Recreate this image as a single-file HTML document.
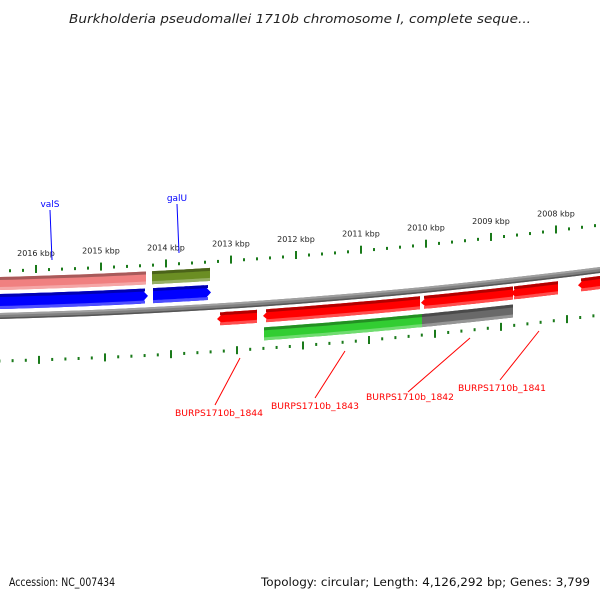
<!DOCTYPE html>
<html><head><meta charset="utf-8"><style>
body{margin:0;background:#fff}
svg{display:block;font-family:"DejaVu Sans","Liberation Sans",sans-serif}
</style></head><body>
<svg id="map" width="600" height="600" viewBox="0 0 600 600">
<text x="69" y="23" font-size="12.5" font-style="italic" fill="#222" textLength="462" lengthAdjust="spacingAndGlyphs">Burkholderia pseudomallei 1710b chromosome I, complete seque...</text>
<g id="ticks"></g>
<g id="backbone"></g>
<g id="genes"></g>
<g id="labels"></g>
<text x="9" y="586" font-size="11.5" fill="#111" textLength="106" lengthAdjust="spacingAndGlyphs">Accession: NC_007434</text>
<text x="261" y="586" font-size="11.5" fill="#111" textLength="329" lengthAdjust="spacingAndGlyphs">Topology: circular; Length: 4,126,292 bp; Genes: 3,799</text>
</svg>
<script>
const kbpTicks = [2016, 2015, 2014, 2013, 2012, 2011, 2010, 2009, 2008];
const geneNames = ["pink-feature","olive-feature","valS","galU","BURPS1710b_1844","BURPS1710b_1843","BURPS1710b_1842","BURPS1710b_1841","red-feature-5","green-feature","grey-feature"];
const geneStart = [2016.6, 2014.215, 2016.6, 2014.2, 2013.215, 2012.508, 2010.077, 2008.692, 2007.662, 2012.492, 2010.062];
const geneEnd   = [2014.308, 2013.323, 2014.277, 2013.308, 2012.6, 2010.092, 2008.662, 2007.969, 2007.2, 2010.062, 2008.662];
const geneRow   = [0, 0, 1, 1, 2, 2, 2, 2, 2, 3, 3];
const geneDir   = [0, 0, 1, 1, -1, -1, -1, -1, -1, 0, 0];
const geneColor = ["#f08080","#6b8e23","#0000ff","#0000ff","#ff0000","#ff0000","#ff0000","#ff0000","#ff0000","#32cd32","#696969"];

const NS="http://www.w3.org/2000/svg";
function xo(k){return 36+(2016-k)*65;}
function xi(k){return 39+(2016-k)*66;}
function c(x){return 316-0.0253*x-8.56e-5*x*x;}
const rowOff=[[-39,-26],[-22,-7],[6,19],[24,37]];
function mk(tag,attrs,parent){const e=document.createElementNS(NS,tag);for(const k in attrs)e.setAttribute(k,attrs[k]);parent.appendChild(e);return e;}
function band(x1,x2,o1,o2,dir){
  const pts=[];const a=Math.max(-5,Math.min(x1,x2)),b=Math.min(605,Math.max(x1,x2));
  const t1=dir<0?a+7:a, t2=dir>0?b-7:b;
  for(let i=0;i<=20;i++){const x=t1+(t2-t1)*i/20;pts.push([x,c(x)+o1]);}
  if(dir>0)pts.push([b,c(b)+(o1+o2)/2]);
  for(let i=20;i>=0;i--){const x=t1+(t2-t1)*i/20;pts.push([x,c(x)+o2]);}
  if(dir<0)pts.push([a,c(a)+(o1+o2)/2]);
  return pts.map(p=>p[0].toFixed(1)+","+p[1].toFixed(1)).join(" ");
}
function shade(col,f){const n=parseInt(col.slice(1),16);let r=n>>16,g=(n>>8)&255,b=n&255;
  if(f<0){r*=1+f;g*=1+f;b*=1+f;}else{r+=(255-r)*f;g+=(255-g)*f;b+=(255-b)*f;}
  return "rgb("+[r,g,b].map(v=>Math.round(v)).join(",")+")";}

const tg=document.getElementById('ticks');
for(let k=2017;k>=2007;k-=0.2){
  const kk=Math.round(k*5)/5;const big=Math.abs(kk-Math.round(kk))<1e-6;
  const x=xo(kk);
  if(x>-3&&x<603){const r=mk('rect',{x:x-1,y:c(x)-45-(big?5:1.5),width:2,height:big?8:3,fill:'#1a7a1a'},tg);
  
  }
  const x2=xi(kk);
  if(x2>-3&&x2<603){const r=mk('rect',{x:x2-1,y:c(x2)+45-(big?4:1.5),width:2,height:big?8:3,fill:'#1a7a1a'},tg);
  
  }
}
kbpTicks.forEach(k=>{const x=xo(k);
  const t=mk('text',{x:x,y:c(x)-59,'font-size':8,'text-anchor':'middle',fill:'#222'},tg);t.textContent=k+" kbp";
  
  });

const bb=document.getElementById('backbone');
mk('polygon',{points:band(-5,605,-3,3,0),fill:'#808080'},bb);
mk('polygon',{points:band(-5,605,-3,-1,0),fill:'#a0a0a0'},bb);
mk('polygon',{points:band(-5,605,1.5,3,0),fill:'#555'},bb);

const gg=document.getElementById('genes');
geneNames.forEach((n,i)=>{
  const x1=xo(geneStart[i]),x2=xo(geneEnd[i]);const [o1,o2]=rowOff[geneRow[i]];const d=geneDir[i];const col=geneColor[i];
  const g=mk('g',{},gg);
  
  
  mk('polygon',{points:band(x1,x2,o1,o2,d),fill:col},g);
  mk('polygon',{points:band(x1+(d<0?3:0),x2-(d>0?3:0),o1,o1+3,0),fill:shade(col,-0.3)},g);
  mk('polygon',{points:band(x1+(d<0?3:0),x2-(d>0?3:0),o2-3,o2,0),fill:shade(col,0.3)},g);
});

const lg=document.getElementById('labels');
const labs=[["valS",50,207,50,210,52,260,"#0000ff",0],["galU",177,201,177,204,179,253,"#0000ff",0],
 ["BURPS1710b_1844",219,416,240,358,215,405,"#ff0000",88],["BURPS1710b_1843",315,409,345,351,315,398,"#ff0000",88],
 ["BURPS1710b_1842",410,400,470,338,408,392,"#ff0000",88],["BURPS1710b_1841",502,391,539,331,500,380,"#ff0000",88]];
labs.forEach(l=>{
  const ln=mk('line',{x1:l[3],y1:l[4],x2:l[5],y2:l[6],stroke:l[7],'stroke-width':1},lg);
  
  
  const at={x:l[8]?l[1]-l[8]/2:l[1],y:l[2],'font-size':9,fill:l[7]};
  if(l[8]){at.textLength=l[8];at.lengthAdjust='spacingAndGlyphs';}else{at['text-anchor']='middle';}
  const t=mk('text',at,lg);t.textContent=l[0];
  
  
});
</script>
</body></html>
